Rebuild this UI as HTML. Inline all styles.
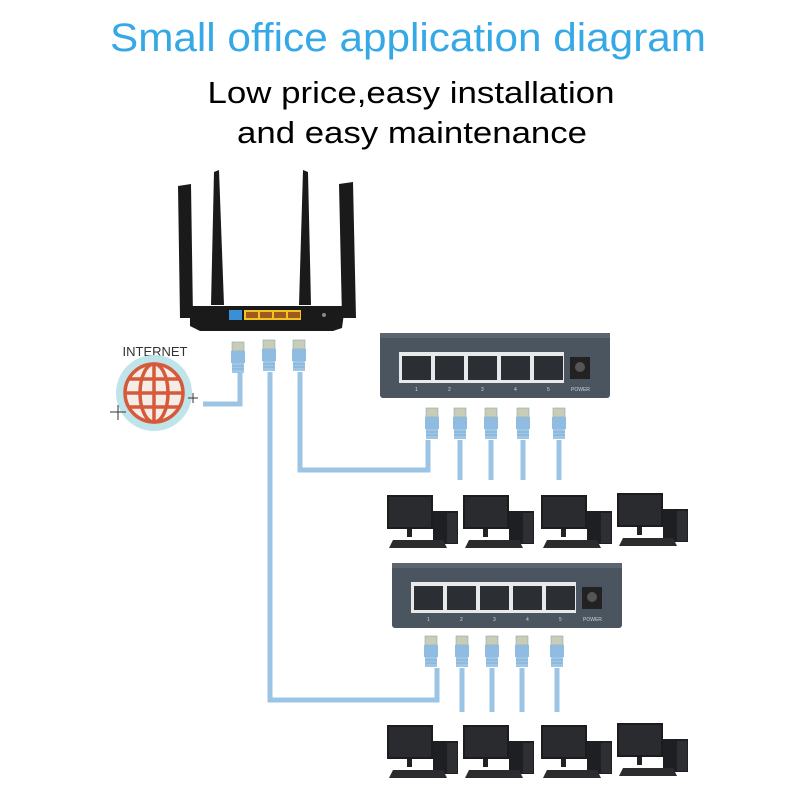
<!DOCTYPE html>
<html><head><meta charset="utf-8"><style>html,body{margin:0;padding:0;background:#fff}svg{display:block}</style></head>
<body>
<svg width="800" height="800" viewBox="0 0 800 800" xmlns="http://www.w3.org/2000/svg" font-family="Liberation Sans, sans-serif">
<defs>
<g id="plug">
  <rect x="-6" y="0" width="12" height="9" fill="#c9cdb8" stroke="#8aa" stroke-width="0.6"/>
  <rect x="-7" y="9" width="14" height="12" fill="#8fbce0"/>
  <rect x="-6" y="21" width="12" height="10" fill="#9ec6e6"/>
  <line x1="-6" y1="24" x2="6" y2="24" stroke="#7aa8cc" stroke-width="0.8"/>
  <line x1="-6" y1="27" x2="6" y2="27" stroke="#7aa8cc" stroke-width="0.8"/>
</g>
<g id="pc">
  <rect x="0" y="3" width="46" height="34" fill="#1c1c1e"/>
  <rect x="2" y="5" width="42" height="30" fill="#2a2b2e"/>
  <rect x="20" y="37" width="5" height="8" fill="#222"/>
  <rect x="46" y="19" width="25" height="33" fill="#1e1f22"/>
  <rect x="60" y="21" width="10" height="30" fill="#2e2f33"/>
  <polygon points="6,48 56,48 60,56 2,56" fill="#2c2c2e"/>
</g>
<g id="switch">
  <rect x="0" y="0" width="230" height="65" rx="3" fill="#4b5560"/>
  <rect x="0" y="0" width="230" height="5" fill="#5b6570"/>
  <rect x="19" y="19" width="165" height="31" fill="#e8e9ea"/>
  <g fill="#2b2f33">
    <rect x="22" y="23" width="29" height="24"/><rect x="55" y="23" width="29" height="24"/>
    <rect x="88" y="23" width="29" height="24"/><rect x="121" y="23" width="29" height="24"/>
    <rect x="154" y="23" width="29" height="24"/>
  </g>
  <rect x="190" y="24" width="20" height="22" fill="#222"/>
  <circle cx="200" cy="34" r="5" fill="#555"/>
  <g fill="#cfd3d6" font-size="5"><text x="35" y="58">1</text><text x="68" y="58">2</text><text x="101" y="58">3</text><text x="134" y="58">4</text><text x="167" y="58">5</text><text x="191" y="58">POWER</text></g>
</g>
</defs>

<text x="408" y="51" text-anchor="middle" font-size="40" fill="#35a8e6" textLength="596" lengthAdjust="spacingAndGlyphs">Small office application diagram</text>
<text x="411" y="103" text-anchor="middle" font-size="31" fill="#000" textLength="407" lengthAdjust="spacingAndGlyphs">Low price,easy installation</text>
<text x="412" y="143" text-anchor="middle" font-size="31" fill="#000" textLength="350" lengthAdjust="spacingAndGlyphs">and easy maintenance</text>

<!-- router -->
<g fill="#1a1a1a">
  <polygon points="178,186 191,184 193,318 180,318"/>
  <polygon points="214,172 219,170 224,305 211,305"/>
  <polygon points="303,170 308,172 311,305 299,305"/>
  <polygon points="339,184 353,182 356,318 342,318"/>
  <polygon points="190,306 345,306 342,328 333,331 200,331 190,326"/>
</g>
<rect x="229" y="310" width="13" height="10" fill="#3b8fd6"/>
<rect x="244" y="310" width="57" height="10" fill="#f0c320"/>
<g fill="#a05a20"><rect x="246" y="312" width="12" height="6"/><rect x="260" y="312" width="12" height="6"/><rect x="274" y="312" width="12" height="6"/><rect x="288" y="312" width="12" height="6"/></g>
<circle cx="324" cy="315" r="2" fill="#888"/>

<!-- internet -->
<text x="155" y="356" text-anchor="middle" font-size="13" fill="#333">INTERNET</text>
<circle cx="154" cy="393" r="38" fill="#bfe4ea"/>
<g fill="none" stroke="#d65a3a" stroke-width="3.5">
  <circle cx="154" cy="393" r="29" fill="#f4ece6"/>
  <ellipse cx="154" cy="393" rx="14" ry="29"/>
  <line x1="154" y1="364" x2="154" y2="422"/>
  <line x1="125" y1="393" x2="183" y2="393"/>
  <line x1="129" y1="379" x2="179" y2="379"/>
  <line x1="129" y1="407" x2="179" y2="407"/>
</g>
<g stroke="#333" stroke-width="1"><line x1="110" y1="412" x2="126" y2="412"/><line x1="118" y1="405" x2="118" y2="420"/><line x1="188" y1="398" x2="198" y2="398"/><line x1="193" y1="393" x2="193" y2="403"/></g>

<!-- cables -->
<g fill="none" stroke="#9cc4e4" stroke-width="5">
  <polyline points="240,372 240,404 203,404"/>
  <polyline points="270,372 270,700 437,700 437,668"/>
  <polyline points="300,372 300,470 428,470 428,440"/>
  <line x1="460" y1="440" x2="460" y2="480"/><line x1="491" y1="440" x2="491" y2="480"/>
  <line x1="523" y1="440" x2="523" y2="480"/><line x1="559" y1="440" x2="559" y2="480"/>
  <line x1="462" y1="668" x2="462" y2="712"/><line x1="492" y1="668" x2="492" y2="712"/>
  <line x1="522" y1="668" x2="522" y2="712"/><line x1="557" y1="668" x2="557" y2="712"/>
</g>
<use href="#plug" x="238" y="342"/><use href="#plug" x="269" y="340"/><use href="#plug" x="299" y="340"/>
<use href="#plug" x="432" y="408"/><use href="#plug" x="460" y="408"/><use href="#plug" x="491" y="408"/><use href="#plug" x="523" y="408"/><use href="#plug" x="559" y="408"/>
<use href="#plug" x="431" y="636"/><use href="#plug" x="462" y="636"/><use href="#plug" x="492" y="636"/><use href="#plug" x="522" y="636"/><use href="#plug" x="557" y="636"/>

<use href="#switch" x="380" y="333"/>
<use href="#switch" x="392" y="563"/>

<use href="#pc" x="387" y="492"/><use href="#pc" x="463" y="492"/><use href="#pc" x="541" y="492"/><use href="#pc" x="617" y="490"/>
<use href="#pc" x="387" y="722"/><use href="#pc" x="463" y="722"/><use href="#pc" x="541" y="722"/><use href="#pc" x="617" y="720"/>
</svg>
</body></html>
